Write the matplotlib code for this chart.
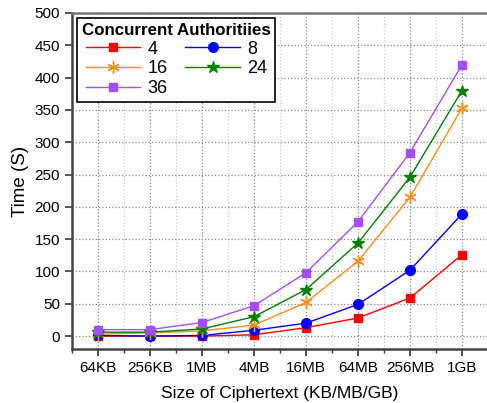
import matplotlib
matplotlib.use("Agg")
import matplotlib.pyplot as plt
from matplotlib.ticker import FixedLocator

plt.rcParams.update({
    "font.family": ["Liberation Sans", "DejaVu Sans"],
    "font.size": 11,
})

sizes = ["64KB", "256KB", "1MB", "4MB", "16MB", "64MB", "256MB", "1GB"]
auth4 = [0, 0, 0, 2, 13, 28, 59, 126]
auth8 = [1, 0, 1, 9, 20, 49, 102, 189]
auth16 = [3, 5, 8, 17, 52, 116, 215, 353]
auth24 = [6, 6, 11, 30, 72, 144, 246, 380]
auth36 = [10, 10, 21, 47, 98, 177, 284, 420]

series = [
    ("4", auth4, "#ff0000", "s", 6),
    ("8", auth8, "#0000ff", "o", 7),
    ("16", auth16, "#ff8c1a", (6, 2, 0), 9),
    ("24", auth24, "#008000", "*", 9),
    ("36", auth36, "#a64dff", "s", 6),
]

fig = plt.figure(figsize=(4.87, 4.03), dpi=100)
ax = fig.add_axes([72 / 487, 54 / 403, 416 / 487, 336 / 403])

x = list(range(len(sizes)))
handles = {}
for label, vals, color, marker, ms in series:
    (h,) = ax.plot(x, vals, color=color, marker=marker, markersize=ms,
                   linewidth=1.0, label=label, markeredgewidth=1.0)
    handles[label] = h

ax.set_xlim(-0.5, 7.5)
ax.set_ylim(-20, 500)
ax.set_xticks(x)
ax.set_xticklabels(sizes)
ax.xaxis.set_minor_locator(FixedLocator([i + 0.5 for i in range(-1, 8)]))
ax.set_yticks(list(range(0, 501, 50)))
ax.set_yticklabels([str(v) for v in range(0, 501, 50)])

ax.tick_params(axis="both", which="major", direction="out", length=5, width=1.2,
               color="#333333", labelsize=11)
ax.tick_params(axis="x", which="minor", direction="out", length=3, width=1.0,
               color="#333333")

ax.grid(True, which="major", linestyle=":", color="#888888", linewidth=0.9)
ax.grid(True, which="minor", axis="x", linestyle=":", color="#cccccc", linewidth=0.9)
ax.set_axisbelow(True)

for side in ["left", "bottom", "top"]:
    ax.spines[side].set_linewidth(1.8)
    ax.spines[side].set_color("#444444")
ax.spines["top"].set_color("#777777")
ax.spines["right"].set_visible(False)

ax.set_xlabel("Size of Ciphertext (KB/MB/GB)", fontsize=12.5, labelpad=8)
ax.set_ylabel("Time (S)", fontsize=13.5, labelpad=4)

order = ["4", "16", "36", "8", "24"]
leg = ax.legend([handles[k] for k in order], order, ncol=2,
                title="Concurrent Authoritiies", loc="upper left",
                bbox_to_anchor=(0.0, 1.0), fontsize=13, fancybox=False,
                edgecolor="black", framealpha=1, handlelength=3.0,
                columnspacing=1.0, labelspacing=0.15, borderaxespad=0.3,
                handletextpad=0.4, borderpad=0.25)
leg.get_title().set_fontweight("bold")
leg.get_title().set_fontsize(12.2)
leg.get_frame().set_linewidth(1.2)

fig.savefig("out.png", dpi=100)
